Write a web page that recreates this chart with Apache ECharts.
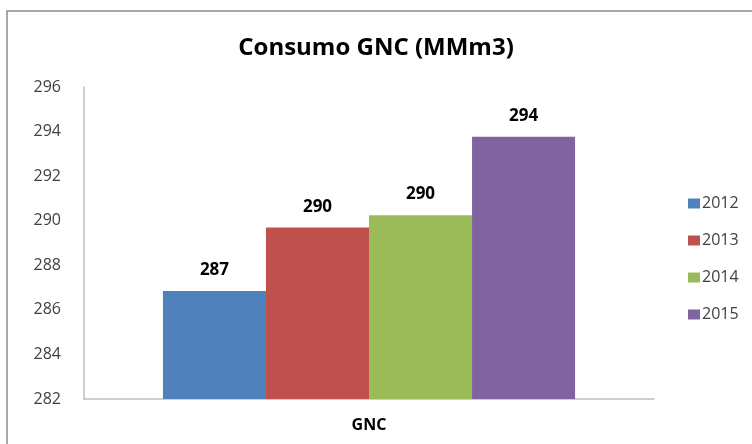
<!DOCTYPE html>
<html><head><meta charset="utf-8">
<script src="https://cdn.jsdelivr.net/npm/echarts@6/dist/echarts.min.js"></script>
<style>html,body{margin:0;padding:0;background:#fff}#c{width:752px;height:444px}</style>
</head><body><div id="c"></div>
<script>
const categories = ['GNC'];
const years = ['2012', '2013', '2014', '2015'];
const v2012 = [286.85];
const v2013 = [289.7];
const v2014 = [290.25];
const v2015 = [293.77];
const seriesValues = [v2012, v2013, v2014, v2015];
const colors = ['#4F81BD', '#C0504D', '#9BBB59', '#8064A2'];
const yMin = 282, yMax = 296, yStep = 2;

const FONT = '"Open Sans", sans-serif';
const chart = echarts.init(document.getElementById('c'));
chart.setOption({
  animation: false,
  backgroundColor: '#fff',
  title: {
    text: 'Consumo GNC (MMm3)', left: 'center', top: 31,
    textStyle: { fontFamily: FONT, fontSize: 24, fontWeight: 'bold', color: '#000' }
  },
  graphic: [{
    type: 'rect', silent: true, z: -1,
    shape: { x: 7, y: 11, width: 800, height: 500 },
    style: { fill: 'none', stroke: '#8c8c8c', lineWidth: 1.5 }
  }],
  legend: {
    orient: 'vertical', left: 683, top: 190,
    itemWidth: 12, itemHeight: 10, itemGap: 20,
    icon: 'rect',
    textStyle: { fontFamily: FONT, fontSize: 16, color: '#404040', lineHeight: 17, padding: [0, 0, 0, -3] },
    data: years
  },
  grid: { left: 84, right: 98, top: 87, bottom: 45, containLabel: false },
  xAxis: {
    type: 'category', data: categories,
    axisLine: { lineStyle: { color: '#bfbfbf', width: 1.5 } },
    axisTick: { show: false },
    axisLabel: { fontFamily: FONT, fontSize: 16, fontWeight: 'bold', color: '#000', margin: 18 }
  },
  yAxis: {
    type: 'value', min: yMin, max: yMax, interval: yStep,
    axisLine: { show: true, lineStyle: { color: '#bfbfbf', width: 1.5 } },
    axisTick: { show: false },
    splitLine: { show: false },
    axisLabel: { fontFamily: FONT, fontSize: 16, color: '#404040', margin: 23 }
  },
  series: years.map((y, i) => ({
    name: y, type: 'bar', data: seriesValues[i],
    barGap: '0%', barCategoryGap: '27.7%',
    itemStyle: { color: colors[i] },
    label: {
      show: true, position: 'top', distance: 12,
      fontFamily: FONT, fontSize: 17, fontWeight: 'bold', color: '#000',
      formatter: p => Math.round(p.value)
    }
  }))
});
</script></body></html>
